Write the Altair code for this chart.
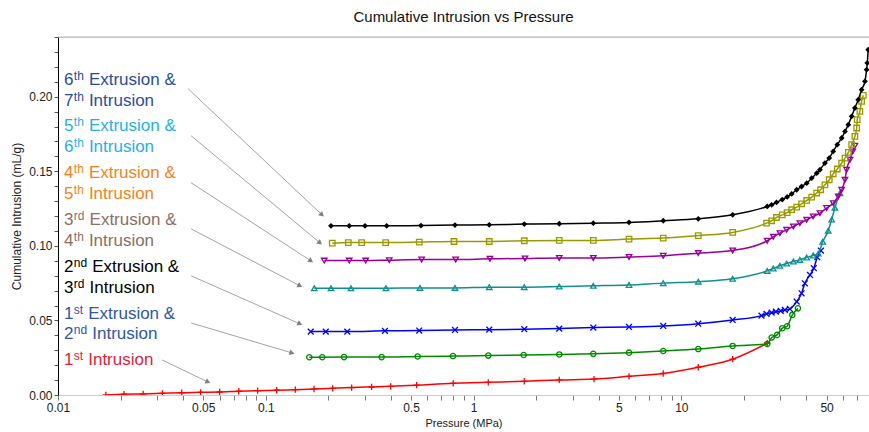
import math
import altair as alt
import pandas as pd

# plot area size (pixels) and axis ranges
W, H = 811, 358
P_MIN, P_MAX = 0.01, 80
V_MAX = 0.24
FONT = "Liberation Sans"

# ---- cumulative intrusion (mL/g) against pressure (MPa) for each cycle ----
int1_p = [0.0170, 0.0208, 0.0257, 0.0318, 0.0394, 0.0486, 0.0600, 0.0741, 0.0914, 0.1128,
          0.1387, 0.1706, 0.2099, 0.2590, 0.3230, 0.3990, 0.5320, 0.7980, 1.177, 1.754,
          2.585, 3.80, 5.60, 8.18, 12.06, 17.66, 25.9]
int1_v = [0.0000, 0.0005, 0.0007, 0.0011, 0.0015, 0.0018, 0.0020, 0.0025, 0.0029, 0.0032,
          0.0036, 0.0040, 0.0045, 0.0050, 0.0054, 0.0058, 0.0066, 0.0078, 0.0085, 0.0092,
          0.0101, 0.0107, 0.0125, 0.0144, 0.0186, 0.0240, 0.0347]

ext1_p = [0.162, 0.187, 0.238, 0.361, 0.538, 0.796, 1.177, 1.742, 2.585, 3.77, 5.60, 8.18,
          12.06, 17.66, 25.9, 27.2, 28.9, 30.6, 32.3, 34.2, 36.4]
ext1_v = [0.0253, 0.0253, 0.0254, 0.0254, 0.0258, 0.0261, 0.0264, 0.0268, 0.0272, 0.0276,
          0.0284, 0.0295, 0.0308, 0.0329, 0.0342, 0.0385, 0.0403, 0.0448, 0.0461, 0.0537,
          0.0581]

ext2_p = [0.1645, 0.1943, 0.2467, 0.3746, 0.5478, 0.8139, 1.190, 1.754, 2.585, 3.77, 5.60,
          8.18, 12.06, 17.66, 24.3, 25.7, 27.2, 28.5, 30.1, 31.5, 33.3, 35.9, 37.9, 39.3,
          41.6, 43.4, 45.1, 46.96]
ext2_v = [0.0425, 0.0425, 0.0425, 0.0430, 0.0432, 0.0436, 0.0438, 0.0441, 0.0445, 0.0452,
          0.0456, 0.0463, 0.0478, 0.0503, 0.0532, 0.0544, 0.0552, 0.0559, 0.0564, 0.0570,
          0.0577, 0.0626, 0.0682, 0.0749, 0.0805, 0.0850, 0.0924, 0.0968]

ext3_p = [0.1712, 0.2060, 0.2570, 0.3788, 0.5521, 0.8139, 1.190, 1.754, 2.585, 3.77, 5.60,
          8.18, 12.06, 17.66, 25.9, 27.7, 29.8, 32.1, 34.6, 37.2, 40.1, 43.1, 45.6, 47.9,
          50.9, 52.9, 54.8, 58.0]
ext3_v = [0.0716, 0.0716, 0.0716, 0.0716, 0.0718, 0.0718, 0.0723, 0.0723, 0.0727, 0.0732,
          0.0738, 0.0750, 0.0760, 0.0779, 0.0832, 0.0848, 0.0866, 0.0881, 0.0895, 0.0906,
          0.0922, 0.0935, 0.0948, 0.1027, 0.1102, 0.1176, 0.1255, 0.1353]

ext4_p = [0.1912, 0.2522, 0.3025, 0.3929, 0.5627, 0.8201, 1.199, 1.768, 2.585, 3.77, 5.60,
          8.18, 12.06, 17.66, 25.9, 27.7, 29.8, 32.1, 34.6, 37.2, 40.1, 43.1, 46.45, 50.0,
          53.8, 56.9, 59.1, 61.3, 62.4, 64.8, 66.8, 68.4]
ext4_v = [0.0901, 0.0901, 0.0901, 0.0904, 0.0908, 0.0908, 0.0913, 0.0915, 0.0918, 0.0918,
          0.0925, 0.0933, 0.0951, 0.0969, 0.1034, 0.1060, 0.1085, 0.1107, 0.1130, 0.1152,
          0.1174, 0.1197, 0.1219, 0.1253, 0.1286, 0.1331, 0.1376, 0.1443, 0.1510, 0.1577,
          0.1633, 0.1671]

ext5_p = [0.2089, 0.2495, 0.2893, 0.3776, 0.5478, 0.8049, 1.190, 1.754, 2.585, 3.77, 5.60,
          8.18, 12.06, 17.66, 25.7, 27.2, 28.7, 30.6, 32.3, 33.95, 35.9, 37.9, 40.1, 42.4,
          44.8, 46.8, 49.1, 51.5, 53.8, 56.3, 59.1, 61.3, 63.6, 66.0, 68.4, 69.8, 70.2, 72.3,
          73.7, 75.1]
ext5_v = [0.1018, 0.1022, 0.1022, 0.1022, 0.1025, 0.1029, 0.1029, 0.1034, 0.1036, 0.1036,
          0.1045, 0.1052, 0.1069, 0.1090, 0.1152, 0.1168, 0.1190, 0.1208, 0.1223, 0.1242,
          0.1260, 0.1282, 0.1304, 0.1327, 0.1354, 0.1376, 0.1409, 0.1443, 0.1483, 0.1515,
          0.1555, 0.1588, 0.1626, 0.1678, 0.1734, 0.1790, 0.1846, 0.1901, 0.1969, 0.2009]

ext6_p = [0.2060, 0.2522, 0.3002, 0.3818, 0.5583, 0.8139, 1.190, 1.754, 2.585, 3.77, 5.60,
          8.18, 12.06, 17.66, 25.9, 27.2, 28.7, 30.6, 32.3, 33.95, 35.9, 37.9, 40.1, 42.4,
          44.8, 46.45, 49.1, 51.5, 53.8, 56.3, 59.1, 61.3, 63.6, 66.0, 68.4, 71.0, 73.7,
          76.5, 77.9, 78.5, 79.3]
ext6_v = [0.1134, 0.1134, 0.1134, 0.1134, 0.1136, 0.1139, 0.1141, 0.1146, 0.1148, 0.1152,
          0.1157, 0.1168, 0.1181, 0.1208, 0.1264, 0.1275, 0.1291, 0.1310, 0.1328, 0.1348,
          0.1376, 0.1398, 0.1420, 0.1454, 0.1487, 0.1510, 0.1555, 0.1588, 0.1633, 0.1678,
          0.1723, 0.1767, 0.1812, 0.1868, 0.1924, 0.1980, 0.2047, 0.2103, 0.2181, 0.2226,
          0.2315]

PLUS = "M-1,0L1,0M0,-1L0,1"
XMARK = "M-1,-1L1,1M-1,1L1,-1"

# name, pressures, volumes, colour, marker shape, filled, marker size
series = [
    ("1st Intrusion", int1_p, int1_v, "#ff0000", PLUS, False, 40),
    ("1st Extrusion & 2nd Intrusion", ext1_p, ext1_v, "#008a00", "circle", False, 28),
    ("2nd Extrusion & 3rd Intrusion", ext2_p, ext2_v, "#0000ff", XMARK, False, 34),
    ("3rd Extrusion & 4th Intrusion", ext3_p, ext3_v, "#0f9090", "triangle-up", False, 30),
    ("4th Extrusion & 5th Intrusion", ext4_p, ext4_v, "#980098", "triangle-down", False, 30),
    ("5th Extrusion & 6th Intrusion", ext5_p, ext5_v, "#9a9a00", "square", False, 30),
    ("6th Extrusion & 7th Intrusion", ext6_p, ext6_v, "#000000", "diamond", True, 34),
]

# ---- callout labels (number, superscript suffix, remaining text) ----
label_num = ["6", "7", "5", "6", "4", "5", "3", "4", "2", "3", "1", "2", "1"]
label_sup = ["th", "th", "th", "th", "th", "th", "rd", "th", "nd", "rd", "st", "nd", "st"]
label_rest = ["Extrusion &", "Intrusion", "Extrusion &", "Intrusion", "Extrusion &",
              "Intrusion", "Extrusion &", "Intrusion", "Extrusion &", "Intrusion",
              "Extrusion &", "Intrusion", "Intrusion"]
label_v = [0.2081, 0.1940, 0.1767, 0.1626, 0.1454, 0.1314, 0.1141, 0.1000, 0.0823, 0.0686,
           0.0512, 0.0374, 0.0199]
label_color = ["#2a4d9b", "#2a4d9b", "#1fb0ea", "#1fb0ea", "#f58221", "#f58221",
               "#8c6e64", "#8c6e64", "#000000", "#000000", "#2e56a6", "#2e56a6", "#dc1f3a"]
label_p = 0.0107

# ---- callout arrows: start (label side) and tip (curve side) ----
arrow_p1 = [0.0422, 0.0437, 0.0437, 0.0437, 0.0437, 0.0437, 0.0317]
arrow_v1 = [0.2054, 0.1738, 0.1423, 0.1114, 0.0799, 0.0483, 0.0235]
arrow_p2 = [0.1864, 0.1823, 0.1650, 0.1460, 0.1460, 0.1337, 0.0527]
arrow_v2 = [0.1208, 0.1020, 0.0899, 0.0732, 0.0477, 0.0282, 0.0087]

x_ticks = [round(m * 10 ** e, 6) for e in (-2, -1, 0, 1) for m in range(1, 10)
           if m * 10 ** e <= P_MAX]
x_labelled = [0.01, 0.05, 0.1, 0.5, 1, 5, 10, 50]
y_ticks = [round(0.01 * i, 2) for i in range(0, 25)]
y_labelled = [0, 0.05, 0.1, 0.15, 0.2]

xscale = alt.Scale(type="log", domain=[P_MIN, P_MAX], nice=False)
yscale = alt.Scale(domain=[0, V_MAX], nice=False)

x_axis = alt.Axis(
    title="Pressure (MPa)", values=x_ticks, format="~g", grid=False,
    labelExpr="indexof(" + str(x_labelled) + ", datum.value) >= 0 ? datum.label : ''",
    labelFlush=False, labelOverlap=False, labelFont=FONT, labelFontSize=12,
    labelColor="#222222", labelPadding=2, tickSize=5, tickColor="#7a7a7a",
    domainColor="#cccccc", titleFont=FONT, titleFontSize=11, titleFontWeight="normal",
    titleColor="#222222", titlePadding=4,
)
y_axis = alt.Axis(
    title="Cumulative Intrusion (mL/g)", values=y_ticks, format=".2f", grid=False,
    labelExpr="indexof(" + str(y_labelled) + ", datum.value) >= 0 ? datum.label : ''",
    labelFlush=False, labelOverlap=False, labelFont=FONT, labelFontSize=12,
    labelColor="#222222", labelPadding=2, tickSize=4, tickColor="#555555",
    domainColor="#000000", titleFont=FONT, titleFontSize=12, titleFontWeight="normal",
    titleColor="#222222", titlePadding=5,
)


def X(field="P"):
    return alt.X(f"{field}:Q", scale=xscale, axis=x_axis)


def Y(field="V"):
    return alt.Y(f"{field}:Q", scale=yscale, axis=y_axis)


layers = []

for name, ps, vs, col, shape, filled, size in series:
    df = pd.DataFrame({"P": ps, "V": vs, "i": range(len(ps))})
    base = alt.Chart(df)
    layers.append(
        base.mark_line(color=col, strokeWidth=1.5, interpolate="monotone", clip=True)
        .encode(x=X(), y=Y(), order="i:Q")
    )
    pt = dict(shape=shape, color=col, size=size, filled=filled, clip=True, opacity=1)
    if not filled:
        pt["strokeWidth"] = 1.3
    layers.append(base.mark_point(**pt).encode(x=X(), y=Y()))

# frame line along the top of the plot
layers.append(
    alt.Chart(pd.DataFrame({"V": [V_MAX]}))
    .mark_rule(color="#b4b4b4", strokeWidth=1)
    .encode(y=Y())
)


# arrows
def px(p):
    return (math.log10(p) - math.log10(P_MIN)) / (math.log10(P_MAX) - math.log10(P_MIN)) * W


def py(v):
    return H * (1 - v / V_MAX)


arrows = pd.DataFrame({"P": arrow_p1, "V": arrow_v1, "P2": arrow_p2, "V2": arrow_v2})
arrows["ang"] = [
    math.degrees(math.atan2(py(b) - py(a), px(d) - px(c))) % 360
    for c, a, d, b in zip(arrow_p1, arrow_v1, arrow_p2, arrow_v2)
]
layers.append(
    alt.Chart(arrows).mark_rule(color="#9a9a9a", strokeWidth=0.9)
    .encode(x=X(), y=Y(), x2="P2:Q", y2="V2:Q")
)
heads = arrows[["P2", "V2", "ang"]].rename(columns={"P2": "P", "V2": "V"})
layers.append(
    alt.Chart(heads).mark_point(shape="triangle-right", filled=True, color="#808080",
                                size=34, opacity=1)
    .encode(x=X(), y=Y(), angle=alt.Angle("ang:Q", scale=None))
)

# labels: number, raised suffix, then the rest of the line after a space
labels = pd.DataFrame({"P": [label_p] * len(label_num), "V": label_v, "num": label_num,
                       "sup": label_sup, "rest": label_rest, "col": label_color})
MAIN_FS, SUP_FS = 17, 12
num_w = 9.45
space_w = 4.72
sup_w = {"st": 9.33, "nd": 13.35, "rd": 10.68, "th": 10.0}
txt = dict(align="left", baseline="alphabetic", font=FONT)
colour = alt.Color("col:N", scale=None)
lab = alt.Chart(labels)
layers.append(lab.mark_text(fontSize=MAIN_FS, **txt)
              .encode(x=X(), y=Y(), text="num:N", color=colour))
layers.append(lab.mark_text(fontSize=SUP_FS, dx=num_w + 0.3, dy=-5, **txt)
              .encode(x=X(), y=Y(), text="sup:N", color=colour))
for suf, w in sup_w.items():
    layers.append(
        lab.transform_filter(alt.datum.sup == suf)
        .mark_text(fontSize=MAIN_FS, dx=num_w + w + space_w + 0.6, **txt)
        .encode(x=X(), y=Y(), text="rest:N", color=colour)
    )

chart = (
    alt.layer(*layers)
    .properties(
        width=W, height=H,
        title=alt.TitleParams("Cumulative Intrusion vs Pressure", font=FONT, fontSize=15,
                              fontWeight="normal", color="#111111", anchor="middle",
                              offset=6),
        autosize=alt.AutoSizeParams(type="none"),
        padding={"left": 58, "top": 37, "right": 0, "bottom": 37},
    )
    .configure_view(stroke=None)
    .configure_axis(labelOverlap=False)
    .configure(background="white")
)

chart.save("out.html", embed_options={"renderer": "svg", "actions": False})
